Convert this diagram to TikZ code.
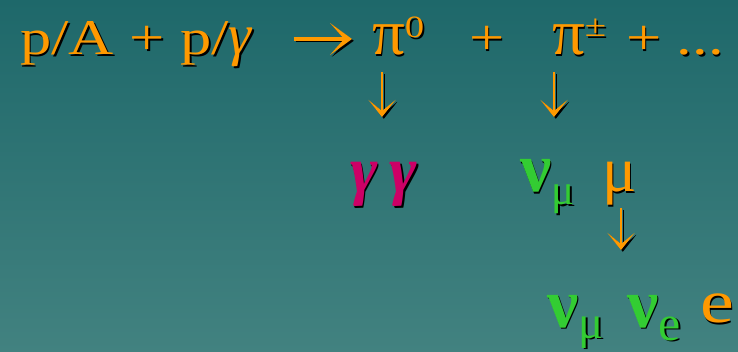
\documentclass[tikz,border=0pt]{standalone}
\usepackage{fontspec}
\setmainfont{Liberation Serif}
\newfontfamily\widefont[FakeStretch=1.25]{Liberation Serif}
\newfontfamily\plainfont{Liberation Serif}
\usetikzlibrary{arrows.meta}

\definecolor{slidetop}{RGB}{30,104,106}
\definecolor{slidebottom}{RGB}{66,130,128}
\definecolor{pionorange}{RGB}{255,153,0}
\definecolor{photonpink}{RGB}{204,0,102}
\definecolor{nugreen}{RGB}{51,204,51}
\definecolor{shade}{RGB}{0,0,0}

% text with a small drop shadow
\newcommand{\shd}[1]{\rlap{\hspace{1.8pt}\raisebox{-1.8pt}{\color{shade}#1}}#1}
\newcommand{\fs}[1]{\fontsize{#1}{#1}\selectfont}

\begin{document}
\begin{tikzpicture}[
  x=1pt, y=-1pt,
  term/.style={anchor=base west, inner sep=0pt, outer sep=0pt},
  rarr/.style={-{Stealth[length=22pt, width=32pt, inset=14pt]}, line width=4pt, draw=pionorange,
    preaction={draw=shade, transform canvas={shift={(1.8pt,-1.8pt)}}}},
  darr/.style={-{Stealth[length=17pt, width=27pt, inset=11pt]}, line width=2pt, draw=pionorange,
    preaction={draw=shade, transform canvas={shift={(1.8pt,-1.8pt)}}}}
]
\shade[top color=slidetop, bottom color=slidebottom] (0,0) rectangle (738,352);
\useasboundingbox (0,0) rectangle (738,352);

% reaction line
\node[term, text=pionorange] (lhs) at (20,55) {\shd{\widefont\fs{50pt}p/A + p/\plainfont\itshape\fs{58pt}γ}};
\node[term, text=pionorange] (pizero) at (372,55) {\shd{\plainfont\fs{65pt}π\raisebox{17pt}{\widefont\fs{31pt}0}}};
\node[term, text=pionorange] (plus) at (469,55) {\shd{\widefont\fs{50pt}+}};
\node[term, text=pionorange] (pipm) at (552,55) {\shd{\plainfont\fs{65pt}π\raisebox{18pt}{\widefont\fs{31pt}±}}};
\node[term, text=pionorange] (more) at (626,55) {\shd{\widefont\fs{50pt}+ ...}};

% decay products
\node[term, text=photonpink] (gg) at (350,193) {\shd{\plainfont\bfseries\itshape\fs{66pt}γ\hspace{12pt}γ}};
\node[term, text=nugreen] (numu) at (520,192) {\shd{\plainfont\bfseries\fs{70pt}ν\raisebox{-13pt}{\mdseries\fs{43pt}μ}}};
\node[term, text=pionorange] (mu) at (602,192) {\shd{\plainfont\fs{64pt}μ}};

% muon decay
\node[term, text=nugreen] (numutwo) at (547,327) {\shd{\plainfont\bfseries\fs{70pt}ν\raisebox{-11pt}{\mdseries\fs{47pt}μ}}};
\node[term, text=nugreen] (nue) at (627,327) {\shd{\plainfont\bfseries\fs{70pt}ν\raisebox{-13pt}{\mdseries\fs{50pt}e}}};
\node[term, text=pionorange] (elec) at (700,323) {\shd{\widefont\fs{61pt}e}};

\draw[rarr, shorten <=42pt, shorten >=20pt] ([yshift=16pt]lhs.base east) -- ([yshift=16pt]pizero.base west);
\draw[darr] ([xshift=10pt, yshift=-17pt]pizero.base west) -- ([xshift=32pt, yshift=76pt]gg.base west);
\draw[darr] ([xshift=2pt, yshift=-17pt]pipm.base west) -- ([xshift=34pt, yshift=75pt]numu.base west);
\draw[darr] ([xshift=19pt, yshift=-16pt]mu.base west) -- ([xshift=-6pt, yshift=77pt]nue.base west);
\end{tikzpicture}
\end{document}
